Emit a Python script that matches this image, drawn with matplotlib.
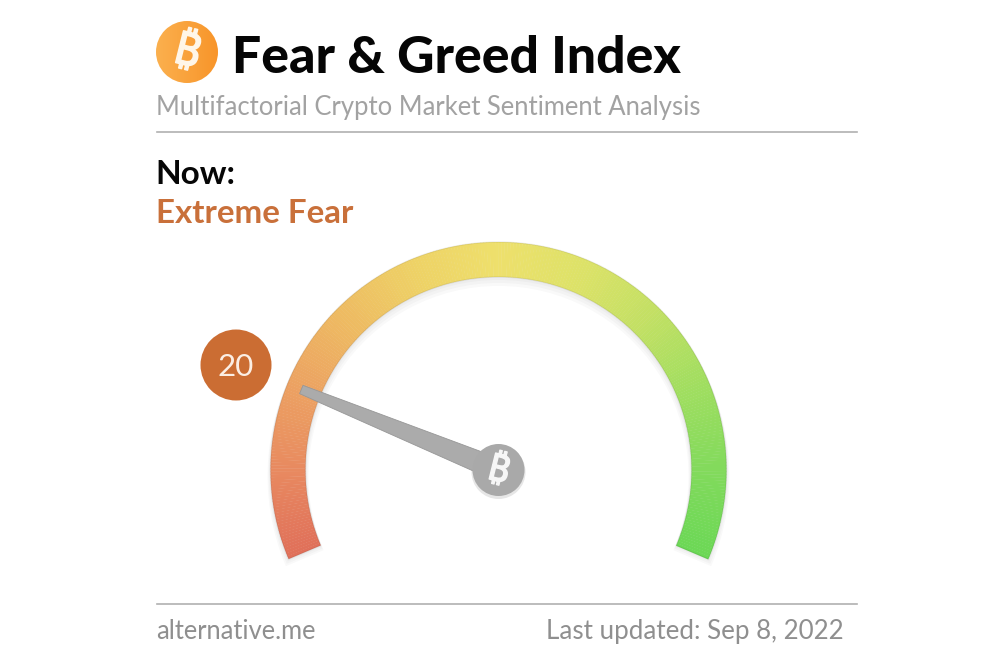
import numpy as np
import matplotlib
matplotlib.use('Agg')
import matplotlib.pyplot as plt
import matplotlib.patheffects as pe
from matplotlib.colors import LinearSegmentedColormap
from matplotlib.patches import Circle, Wedge, Polygon

plt.rcParams['font.family'] = ['Lato', 'DejaVu Sans']

TITLE = 'Fear & Greed Index'
SUBTITLE = 'Multifactorial Crypto Market Sentiment Analysis'
NOW_LABEL = 'Now:'
STATE_LABEL = 'Extreme Fear'
SOURCE = 'alternative.me'
UPDATED = 'Last updated: Sep 8, 2022'
INDEX_VALUE = 20
SCALE_MIN = 0
SCALE_MAX = 100

STOP_VALUES = [0, 10, 20, 30, 40, 50, 60, 70, 80, 90, 100]
STOP_COLORS = ['#e0705a', '#e88a60', '#eca262', '#eebb62', '#eed266', '#eee06c',
               '#dde268', '#c2e064', '#a0de60', '#82da5c', '#6cd856']

# 画布按像素算，y 轴向上
W, H = 1000, 667
CX, CY = 498.5, H - 470
R_OUT, R_IN = 228, 193
START_ANG, END_ANG = 203, -23
COIN_FONTS = ['Noto Sans', 'Inter', 'Roboto', 'Open Sans', 'Liberation Sans', 'DejaVu Sans']

fig = plt.figure(figsize=(W / 100, H / 100), dpi=100)
ax = fig.add_axes([0, 0, 1, 1])
ax.set_xlim(0, W)
ax.set_ylim(0, H)
ax.axis('off')


def val2ang(v):
    return START_ANG + (END_ANG - START_ANG) * (v - SCALE_MIN) / (SCALE_MAX - SCALE_MIN)


################################################################
# 1. 標題區
################################################################
coin_x, coin_y, coin_r = 187, H - 52, 31
grad = np.linspace(0, 1, 64).reshape(1, -1)
coin_cmap = LinearSegmentedColormap.from_list('coin', ['#fbb04e', '#f8952a'])
im = ax.imshow(grad, extent=[coin_x - coin_r, coin_x + coin_r, coin_y - coin_r, coin_y + coin_r],
               cmap=coin_cmap, aspect='auto', zorder=2)
clip = Circle((coin_x, coin_y), coin_r, transform=ax.transData)
im.set_clip_path(clip)
ax.set_xlim(0, W)
ax.set_ylim(0, H)
ax.text(coin_x, coin_y - 1, '\u20bf', color='#fff6e8', fontsize=33, fontweight='bold', rotation=-14,
        ha='center', va='center', family=COIN_FONTS, zorder=3,
        path_effects=[pe.withStroke(linewidth=1.1, foreground='#fff6e8')])

ax.text(232.5, H - 73, TITLE, fontsize=37.2, fontweight='black', color='#050505', va='baseline')
ax.text(156, H - 115, SUBTITLE, fontsize=18.45, color='#a2a2a2', va='baseline')
ax.plot([157, 857], [H - 132, H - 132], color='#b0b0b0', lw=1.2)

ax.text(155.5, H - 184, NOW_LABEL, fontsize=24, fontweight='bold', color='#060606', va='baseline')
ax.text(156, H - 223, STATE_LABEL, fontsize=23.9, fontweight='bold', color='#c9703a', va='baseline')

################################################################
# 2. 儀表弧
################################################################
gauge_cmap = LinearSegmentedColormap.from_list(
    'gauge', [(v / SCALE_MAX, c) for v, c in zip(STOP_VALUES, STOP_COLORS)])

# 向下偏移的柔和陰影
for off, grow in [(6, 3), (4, 2), (2, 1)]:
    ax.add_patch(Wedge((CX, CY - off), R_OUT + grow, END_ANG, START_ANG,
                       width=R_OUT - R_IN + 2 * grow, color='black', alpha=0.022, lw=0, zorder=1))

steps = np.linspace(SCALE_MIN, SCALE_MAX, 301)
for a, b in zip(steps[:-1], steps[1:]):
    ang_hi, ang_lo = val2ang(a), val2ang(b)
    ax.add_patch(Wedge((CX, CY), R_OUT, ang_lo - 0.1, ang_hi, width=R_OUT - R_IN,
                       color=gauge_cmap((a + b) / 2 / SCALE_MAX), lw=0, zorder=2))

# 弧的暗邊
ax.add_patch(Wedge((CX, CY), R_OUT, END_ANG, START_ANG, width=R_OUT - R_IN, fill=False,
                   edgecolor='black', alpha=0.07, lw=1, zorder=2.5))

################################################################
# 3. 指針與數值圓
################################################################
theta = np.deg2rad(val2ang(INDEX_VALUE))
u = np.array([np.cos(theta), np.sin(theta)])
n = np.array([-u[1], u[0]])
c = np.array([CX, CY])
tip = c + u * 213
pts = [tip + n * 4.5, tip - n * 4.5, c + u * 22 - n * 10.5, c + u * 22 + n * 10.5]
ax.add_patch(Polygon(pts, closed=True, facecolor='#ababab', edgecolor='#979797', lw=0.6, zorder=4))
ax.add_patch(Circle((CX, CY - 2), 27, color='#e6e6e6', lw=0, zorder=3))
ax.add_patch(Circle((CX, CY), 26, color='#a9a9a9', lw=0, zorder=5))
ax.text(CX, CY - 1, '\u20bf', color='#f6f6f6', fontsize=27, fontweight='bold', rotation=-14,
        ha='center', va='center', family=COIN_FONTS, zorder=6,
        path_effects=[pe.withStroke(linewidth=1, foreground='#f6f6f6')])

ax.add_patch(Circle((236, H - 365), 35.5, color='#cb6d33', lw=0, zorder=3))
ax.text(236, H - 365, str(INDEX_VALUE), fontsize=22.5, color='#fbeee4', ha='center', va='center_baseline', zorder=4)

################################################################
# 4. 頁尾
################################################################
ax.plot([157, 857], [H - 604, H - 604], color='#b0b0b0', lw=1.2)
ax.text(156, H - 639, SOURCE, fontsize=18.4, color='#8f8f8f', va='baseline')
ax.text(844, H - 639, UPDATED, fontsize=18.7, color='#8f8f8f', va='baseline', ha='right')

plt.savefig('out.png', dpi=100)
plt.close()
